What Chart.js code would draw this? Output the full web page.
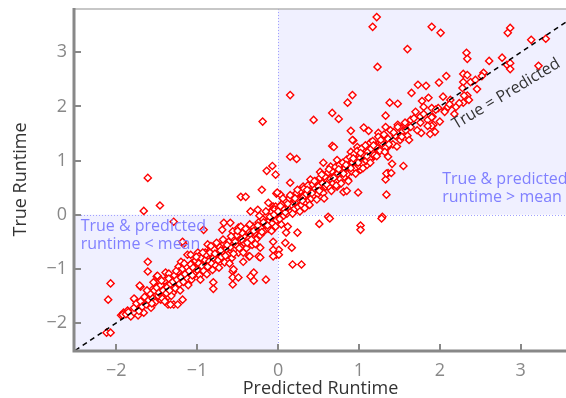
<!DOCTYPE html>
<html>
<head>
<meta charset="utf-8">
<script src="https://cdn.jsdelivr.net/npm/chart.js@4"></script>
<style>
  html, body { margin: 0; padding: 0; background: #fff; overflow: hidden; }
  canvas { display: block; }
</style>
</head>
<body>
<canvas id="grafica" width="566" height="398"></canvas>
<script>
// Pares [predicho, real] (runtime normalizado)
const arribaIzq = [
  [-1.61, 0.68], [-0.19, 1.72], [-1.46, 0.17], [-1.66, 0.07], [-1.29, -0.13], [-0.92, -0.28],
  [-0.07, 0.90], [-0.14, 0.81], [-0.03, 0.74], [-0.20, 0.46], [-0.02, 0.39], [-0.46, 0.33],
  [-0.40, 0.33], [-0.12, 0.22], [-0.06, 0.15], [-0.34, 0.06], [-0.25, 0.09], [0.03, 0.37],
  [0.12, 0.28], [0.15, 0.59], [-0.01, 0.41], [0.07, 0.28], [0.15, 0.22], [-0.03, 0.15],
  [0.24, 0.31], [-0.07, 0.09]
];

const abajoIzq = [
  [-2.10, -1.57], [-2.07, -1.27], [-2.12, -2.18], [-2.07, -2.18], [-1.94, -1.86], [-1.91, -1.81],
  [-1.86, -1.77], [-1.92, -1.85], [-1.73, -1.86], [-1.66, -1.81], [-1.77, -1.57], [-1.70, -1.33],
  [-1.61, -1.05], [-1.61, -0.87], [-1.50, -1.14], [-1.36, -1.66], [-1.29, -1.66], [-1.17, -0.54],
  [-0.87, -0.96], [-0.80, -1.25], [-0.80, -1.37], [-0.67, -0.15], [-0.59, -0.15], [-0.69, -0.28],
  [-0.56, -0.31], [-0.49, -0.24], [-0.56, -1.05], [-0.56, -1.16], [-0.56, -1.29], [-0.49, -1.16],
  [-0.36, -0.77], [-0.30, -1.07], [-0.30, -1.22], [-0.15, -1.20], [-0.06, -0.50], [-0.02, -0.74],
  [-0.24, -0.77], [-0.22, -0.61], [-0.22, -0.79], [-0.35, -0.77], [-0.43, -0.87], [-0.55, -1.01],
  [-0.34, -1.14], [-1.18, -0.50], [-1.12, -0.74], [-1.08, -0.74], [-0.99, -0.70], [-0.98, -0.77],
  [-0.90, -0.70], [-0.87, -0.55], [-0.83, -0.65], [-0.75, -0.59], [-1.24, -1.66], [-1.78, -1.55],
  [-1.71, -1.31], [-1.66, -1.62], [-1.60, -1.51], [-1.55, -1.38], [-1.54, -1.25], [-1.49, -1.13],
  [-1.45, -1.20], [-1.51, -1.48], [-1.45, -1.57], [-1.39, -1.07], [-1.35, -1.09], [-1.41, -1.38],
  [-1.33, -1.66], [-1.36, -1.51], [-1.30, -1.44], [-1.29, -1.33], [-1.24, -1.16], [-1.23, -0.96],
  [-1.20, -0.87], [-1.18, -1.05], [-1.14, -1.24], [-1.12, -1.01], [-1.08, -1.14], [-1.06, -0.89],
  [-1.04, -1.05], [-0.99, -0.96], [-0.96, -1.07], [-0.92, -0.87], [-0.86, -0.96], [-0.80, -0.77],
  [-0.73, -0.89], [-1.49, -1.33], [-1.18, -1.57], [-0.46, -0.22]
];

const arribaDer = [
  [0.44, 1.75], [0.67, 1.88], [0.75, 1.77], [0.90, 1.55], [1.06, 1.61], [1.12, 1.55],
  [1.33, 1.83], [1.24, 1.51], [0.93, 1.37], [0.67, 1.27], [0.15, 1.07], [0.23, 1.03],
  [0.56, 0.96], [0.73, 1.01], [0.83, 0.94], [0.90, 1.16], [0.98, 1.25], [1.14, 1.33],
  [1.23, 1.29], [1.30, 1.38], [1.35, 1.24], [1.36, 1.07], [1.36, 0.77], [1.33, 0.65],
  [0.99, 0.41], [0.52, 0.79], [0.65, 0.89], [0.77, 0.79], [0.86, 0.65], [0.73, 0.52],
  [0.40, 0.65], [0.31, 0.52], [0.28, 0.41], [0.44, 0.46], [0.56, 0.59], [1.02, 0.83],
  [1.10, 0.92], [1.18, 1.07], [0.96, 1.01], [1.23, 1.20], [1.55, 0.90], [1.41, 0.94],
  [1.34, 0.76], [1.40, 0.77], [0.69, 1.25], [0.92, 1.38], [0.15, 2.21], [0.92, 2.21],
  [0.86, 2.07], [1.34, 0.37], [0.81, 0.42], [0.85, 0.44],
  [1.22, 3.65], [1.17, 3.47], [1.90, 3.47], [2.01, 3.36], [1.60, 3.06], [2.33, 2.99],
  [2.34, 2.88], [2.87, 3.45], [2.84, 3.36], [3.13, 3.23], [3.31, 3.25], [1.23, 2.73],
  [2.61, 2.84], [2.77, 2.90], [2.83, 2.77], [2.87, 2.80], [2.87, 2.69], [3.22, 2.75],
  [2.08, 2.56], [2.29, 2.60], [2.34, 2.58], [2.54, 2.62], [2.52, 2.56], [1.73, 2.40],
  [1.83, 2.38], [1.99, 2.44], [2.29, 2.45], [2.38, 2.45], [2.44, 2.49], [2.28, 2.34],
  [2.46, 2.32], [2.34, 2.20], [1.65, 2.25], [1.38, 2.07], [1.48, 2.05], [1.78, 2.10],
  [1.86, 2.16], [2.04, 2.18], [2.13, 2.12], [2.20, 1.99], [2.29, 2.07], [1.70, 1.90],
  [1.80, 1.99], [1.90, 1.97], [1.98, 1.97], [2.07, 1.94], [2.10, 1.99], [1.64, 1.75],
  [1.76, 1.81], [1.85, 1.75], [1.91, 1.81], [1.33, 1.62], [1.48, 1.66], [1.57, 1.66],
  [1.92, 1.66], [1.90, 1.64], [1.94, 1.53], [1.88, 1.49], [1.77, 1.51]
];

const abajoDer = [
  [0.62, -0.04], [1.29, -0.04], [0.51, -0.17], [0.64, -0.07], [1.02, -0.20], [1.02, -0.28],
  [1.28, -0.07], [0.24, -0.33], [0.09, -0.52], [0.17, -0.61], [0.18, -0.92], [0.29, -0.92],
  [0.01, -0.65], [0.01, -0.74], [0.10, -0.33], [0.04, -0.18], [0.12, -0.22], [-0.06, -0.65],
  [-0.06, -0.77]
];

// Nube principal alrededor de la diagonal
const bandaBaja = [
  [-1.88, -1.84], [-1.85, -1.80], [-1.82, -1.88], [-1.78, -1.72], [-1.75, -1.64], [-1.72, -1.78],
  [-1.70, -1.60], [-1.68, -1.70], [-1.65, -1.52], [-1.63, -1.66], [-1.60, -1.58], [-1.58, -1.46],
  [-1.57, -1.72], [-1.55, -1.55], [-1.53, -1.40], [-1.52, -1.62], [-1.50, -1.35], [-1.48, -1.50],
  [-1.47, -1.44], [-1.45, -1.30], [-1.43, -1.55], [-1.42, -1.40], [-1.40, -1.22], [-1.38, -1.45],
  [-1.37, -1.34], [-1.35, -1.18], [-1.33, -1.28], [-1.32, -1.50], [-1.30, -1.24], [-1.28, -1.12],
  [-1.27, -1.36], [-1.25, -1.20], [-1.23, -1.05], [-1.22, -1.28], [-1.20, -1.16], [-1.18, -1.00],
  [-1.17, -1.24], [-1.15, -1.10], [-1.13, -0.96], [-1.12, -1.18], [-1.10, -1.04], [-1.08, -0.92],
  [-1.07, -1.20], [-1.05, -0.98], [-1.03, -1.10], [-1.02, -0.85]
];

const bandaMedia = [
  [-1.00, -1.02], [-0.98, -0.90], [-0.97, -1.12], [-0.95, -0.80], [-0.94, -0.95], [-0.92, -1.04],
  [-0.90, -0.84], [-0.89, -0.74], [-0.87, -0.96], [-0.85, -0.86], [-0.84, -0.70], [-0.82, -0.90],
  [-0.80, -0.80], [-0.79, -0.64], [-0.77, -0.94], [-0.75, -0.72], [-0.74, -0.84], [-0.72, -0.60],
  [-0.70, -0.78], [-0.69, -0.68], [-0.67, -0.54], [-0.66, -0.88], [-0.64, -0.64], [-0.62, -0.74],
  [-0.61, -0.50], [-0.59, -0.60], [-0.57, -0.80], [-0.56, -0.44], [-0.54, -0.66], [-0.52, -0.56],
  [-0.51, -0.38], [-0.49, -0.70], [-0.47, -0.48], [-0.46, -0.60], [-0.44, -0.34], [-0.42, -0.52],
  [-0.41, -0.42], [-0.39, -0.62], [-0.37, -0.30], [-0.36, -0.44], [-0.34, -0.36], [-0.32, -0.56],
  [-0.31, -0.22], [-0.29, -0.34], [-0.27, -0.46], [-0.26, -0.26], [-0.24, -0.14], [-0.22, -0.38],
  [-0.21, -0.24], [-0.19, -0.08], [-0.17, -0.30], [-0.16, -0.18], [-0.14, -0.02], [-0.12, -0.26],
  [-0.11, -0.12], [-0.09, 0.04], [-0.07, -0.16], [-0.06, -0.06], [-0.04, 0.10], [-0.02, -0.10],
  [-0.01, 0.02]
];

const bandaAlta = [
  [0.01, 0.12], [0.02, -0.08], [0.04, 0.06], [0.05, 0.20], [0.07, -0.02], [0.08, 0.10],
  [0.10, 0.24], [0.11, 0.02], [0.13, 0.14], [0.14, 0.30], [0.16, 0.06], [0.17, 0.18],
  [0.19, 0.34], [0.20, 0.10], [0.22, 0.24], [0.23, 0.40], [0.25, 0.14], [0.26, 0.28],
  [0.28, 0.44], [0.29, 0.18], [0.31, 0.32], [0.32, 0.48], [0.34, 0.22], [0.35, 0.38],
  [0.37, 0.54], [0.38, 0.26], [0.40, 0.42], [0.41, 0.30], [0.43, 0.56], [0.44, 0.36],
  [0.46, 0.48], [0.47, 0.62], [0.49, 0.38], [0.50, 0.52], [0.52, 0.68], [0.53, 0.44],
  [0.55, 0.58], [0.56, 0.40], [0.58, 0.70], [0.59, 0.52], [0.61, 0.62], [0.62, 0.78],
  [0.64, 0.50], [0.65, 0.66], [0.67, 0.80], [0.68, 0.58], [0.70, 0.72], [0.71, 0.88],
  [0.73, 0.62], [0.74, 0.76], [0.76, 0.92], [0.77, 0.66], [0.79, 0.80], [0.80, 0.96],
  [0.82, 0.70], [0.83, 0.86], [0.85, 1.02], [0.86, 0.76], [0.88, 0.90], [0.89, 1.06],
  [0.91, 0.80], [0.92, 0.96], [0.94, 1.12], [0.95, 0.86], [0.97, 1.00], [0.98, 1.18],
  [1.00, 0.90], [1.01, 1.04], [1.03, 1.22], [1.04, 0.94], [1.06, 1.10], [1.08, 1.28],
  [1.09, 1.00], [1.11, 1.16], [1.13, 1.04], [1.15, 1.22], [1.17, 1.36], [1.19, 1.10],
  [1.21, 1.26], [1.24, 1.44], [1.26, 1.18], [1.28, 1.32], [1.31, 1.48], [1.33, 1.24],
  [1.36, 1.40], [1.39, 1.56], [1.42, 1.30], [1.45, 1.46], [1.48, 1.62], [1.51, 1.38],
  [1.54, 1.54], [1.57, 1.70], [1.60, 1.46], [1.64, 1.62], [1.68, 1.78], [1.72, 1.56],
  [1.76, 1.70], [1.80, 1.86], [1.85, 1.64], [1.90, 1.80], [1.95, 1.94], [2.00, 1.72],
  [2.06, 1.90], [2.12, 2.04], [2.18, 1.86], [2.24, 2.06], [2.30, 2.20], [2.36, 2.12]
];

// Puntos que engrosan la nube entre -1.6 y 1.6
const bandaDensa = [
  [-1.62, -1.40], [-1.56, -1.64], [-1.44, -1.22], [-1.40, -1.60], [-1.34, -1.40], [-1.26, -1.04],
  [-1.21, -1.40], [-1.16, -0.90], [-1.11, -1.30], [-1.06, -1.12], [-1.01, -0.78], [-0.96, -1.20],
  [-0.93, -0.70], [-0.88, -1.10], [-0.83, -0.58], [-0.81, -1.02], [-0.78, -0.72], [-0.76, -0.52],
  [-0.73, -0.98], [-0.71, -0.66], [-0.68, -0.46], [-0.65, -0.76], [-0.63, -0.56], [-0.60, -0.90],
  [-0.58, -0.40], [-0.55, -0.72], [-0.53, -0.50], [-0.50, -0.30], [-0.48, -0.62], [-0.45, -0.46],
  [-0.43, -0.70], [-0.40, -0.26], [-0.38, -0.52], [-0.35, -0.18], [-0.33, -0.46], [-0.30, -0.30],
  [-0.28, -0.54], [-0.25, -0.20], [-0.23, -0.02], [-0.20, -0.32], [-0.18, -0.14], [-0.15, 0.06],
  [-0.13, -0.20], [-0.10, -0.04], [-0.08, -0.30], [-0.05, 0.00], [-0.03, -0.22], [0.00, 0.06],
  [0.03, 0.16], [0.06, 0.30], [0.09, 0.04], [0.12, 0.20], [0.15, 0.36], [0.18, 0.02],
  [0.21, 0.30], [0.24, 0.46], [0.27, 0.06], [0.30, 0.26], [0.33, 0.12], [0.36, 0.46],
  [0.39, 0.18], [0.42, 0.40], [0.45, 0.62], [0.48, 0.28], [0.51, 0.44], [0.54, 0.74],
  [0.57, 0.30], [0.60, 0.56], [0.63, 0.84], [0.66, 0.44], [0.69, 0.68], [0.72, 0.54],
  [0.75, 0.84], [0.78, 0.58], [0.81, 0.76], [0.84, 0.92], [0.87, 0.62], [0.90, 0.86],
  [0.93, 1.04], [0.96, 0.76], [0.99, 0.96], [1.02, 1.14], [1.05, 0.86], [1.10, 1.08],
  [1.14, 0.96], [1.18, 1.28], [1.22, 1.08], [1.27, 1.38], [1.32, 1.16], [1.37, 1.30],
  [1.43, 1.52], [1.47, 1.26], [1.53, 1.44], [1.58, 1.56], [1.62, 1.38]
];

// Extremos de la recta True = Predicted
const diagonal = [-2.6, 3.7];

// Límites de ejes y ticks
const limitesX = [-2.51, 3.56];
const limitesY = [-2.5, 3.8];
const ticksX = [-2, -1, 0, 1, 2, 3];
const ticksY = [-2, -1, 0, 1, 2, 3];

const colores = {
    rojo: '#ff0000',
    sombra: '#f0f0ff',
    borde: '#a0a0ff',
    texto: '#8080ff',
    eje: '#888888',
    oscuro: '#333333'
};

const fuente = '"Open Sans", "DejaVu Sans", sans-serif';

const puntos = [...arribaIzq, ...abajoIzq, ...arribaDer, ...abajoDer,
                ...bandaBaja, ...bandaMedia, ...bandaAlta, ...bandaDensa]
    .map(p => ({ x: p[0], y: p[1] }));

const menos = v => v < 0 ? '\u2212' + Math.abs(v) : String(v);

// Cuadrantes sombreados, ejes con ticks hacia dentro y textos
const decoracion = {
    id: 'decoracion',
    beforeDatasetsDraw(chart) {
        const { ctx, chartArea: a, scales: { x, y } } = chart;
        const x0 = x.getPixelForValue(0);
        const y0 = y.getPixelForValue(0);
        ctx.save();
        ctx.fillStyle = colores.sombra;
        ctx.fillRect(a.left, y0, x0 - a.left, a.bottom - y0);
        ctx.fillRect(x0, a.top, a.right - x0, y0 - a.top);
        ctx.strokeStyle = colores.borde;
        ctx.lineWidth = 1;
        ctx.setLineDash([1, 2]);
        ctx.beginPath();
        ctx.moveTo(Math.round(x0) + 0.5, a.top);
        ctx.lineTo(Math.round(x0) + 0.5, a.bottom);
        ctx.moveTo(a.left, Math.round(y0) + 0.5);
        ctx.lineTo(a.right, Math.round(y0) + 0.5);
        ctx.stroke();
        ctx.restore();
    },
    afterDatasetsDraw(chart) {
        const { ctx, scales: { x, y } } = chart;
        ctx.save();
        ctx.font = '16px ' + fuente;
        ctx.fillStyle = colores.texto;
        ctx.textAlign = 'left';
        ctx.textBaseline = 'middle';
        let px = x.getPixelForValue(-2.44), py = y.getPixelForValue(-0.22);
        ctx.fillText('True & predicted', px, py);
        ctx.fillText('runtime < mean', px, py + 18);
        px = x.getPixelForValue(2.03); py = y.getPixelForValue(0.65);
        ctx.fillText('True & predicted', px, py);
        ctx.fillText('runtime > mean', px, py + 18);

        ctx.translate(x.getPixelForValue(2.82), y.getPixelForValue(2.23));
        ctx.rotate(-31 * Math.PI / 180);
        ctx.textAlign = 'center';
        ctx.fillStyle = colores.oscuro;
        ctx.fillText('True = Predicted', 0, 0);
        ctx.restore();
    },
    afterDraw(chart) {
        const { ctx, chartArea: a, scales: { x, y } } = chart;
        ctx.save();
        ctx.strokeStyle = '#b4b4b4';
        ctx.lineWidth = 1.5;
        ctx.beginPath();
        ctx.moveTo(a.left, a.top);
        ctx.lineTo(a.right, a.top);
        ctx.stroke();

        ctx.strokeStyle = colores.eje;
        ctx.lineWidth = 3;
        ctx.beginPath();
        ctx.moveTo(a.left - 1, a.top - 1);
        ctx.lineTo(a.left - 1, a.bottom + 1);
        ctx.lineTo(a.right, a.bottom + 1);
        ctx.stroke();

        ctx.lineWidth = 2;
        ctx.beginPath();
        ticksX.forEach(v => {
            const p = Math.round(x.getPixelForValue(v));
            ctx.moveTo(p, a.bottom);
            ctx.lineTo(p, a.bottom - 6);
        });
        ticksY.forEach(v => {
            const p = Math.round(y.getPixelForValue(v));
            ctx.moveTo(a.left, p);
            ctx.lineTo(a.left + 6, p);
        });
        ctx.stroke();
        ctx.restore();
    }
};

const ctx = document.getElementById('grafica').getContext('2d');
new Chart(ctx, {
    type: 'scatter',
    data: {
        datasets: [
            {
                type: 'line',
                data: diagonal.map(v => ({ x: v, y: v })),
                borderColor: '#000000',
                borderWidth: 1.5,
                borderDash: [5, 4],
                pointRadius: 0,
                fill: false,
                order: 0
            },
            {
                data: puntos,
                pointStyle: 'rectRot',
                pointRadius: 3.6,
                pointBorderWidth: 1.4,
                borderColor: colores.rojo,
                backgroundColor: '#ffffff',
                order: 1
            }
        ]
    },
    options: {
        responsive: false,
        animation: false,
        layout: { autoPadding: false, padding: { top: 9, right: 0, left: 0, bottom: 0 } },
        plugins: {
            legend: { display: false },
            tooltip: { enabled: false }
        },
        scales: {
            x: {
                type: 'linear',
                min: limitesX[0],
                max: limitesX[1],
                afterFit: s => { s.height = 48; s.paddingLeft = 0; s.paddingRight = 0; },
                afterBuildTicks: s => { s.ticks = ticksX.map(v => ({ value: v })); },
                grid: { display: false, drawTicks: false },
                border: { display: false },
                ticks: {
                    padding: 10,
                    color: colores.eje,
                    font: { family: fuente, size: 18 },
                    callback: v => menos(v)
                },
                title: {
                    display: true,
                    text: 'Predicted Runtime',
                    color: colores.oscuro,
                    font: { family: fuente, size: 18 },
                    padding: { top: 0, bottom: -2 }
                }
            },
            y: {
                type: 'linear',
                min: limitesY[0],
                max: limitesY[1],
                afterFit: s => { s.width = 75; s.paddingTop = 0; s.paddingBottom = 0; },
                afterBuildTicks: s => { s.ticks = ticksY.map(v => ({ value: v })); },
                grid: { display: false, drawTicks: false },
                border: { display: false },
                ticks: {
                    padding: 8,
                    color: colores.eje,
                    font: { family: fuente, size: 18 },
                    callback: v => menos(v)
                },
                title: {
                    display: true,
                    text: 'True Runtime',
                    color: colores.oscuro,
                    font: { family: fuente, size: 18 },
                    padding: { top: 10, bottom: 0 }
                }
            }
        }
    },
    plugins: [decoracion]
});
</script>
</body>
</html>
